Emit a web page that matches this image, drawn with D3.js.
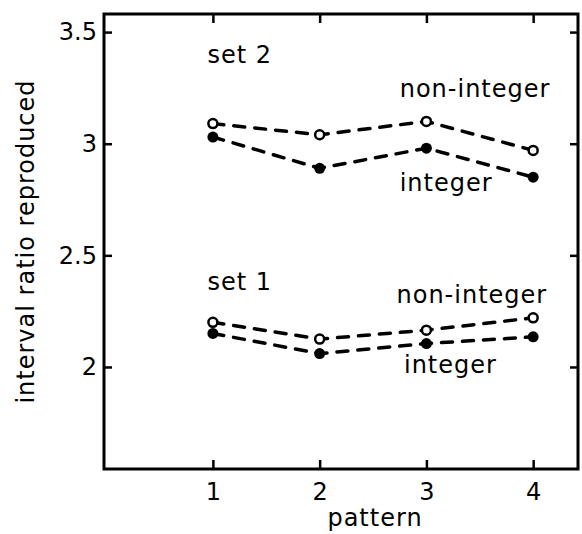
<!DOCTYPE html>
<html>
<head>
<meta charset="utf-8">
<script src="https://cdn.jsdelivr.net/npm/d3@7"></script>
<style>
  body { margin: 0; background: #fff; }
  svg text { font-family: "DejaVu Sans", sans-serif; fill: #000; }
</style>
</head>
<body>
<div id="chart"></div>
<script>
const patterns = [1, 2, 3, 4];
const set2NonInteger = [3.09, 3.04, 3.10, 2.97];
const set2Integer = [3.03, 2.89, 2.98, 2.85];
const set1NonInteger = [2.20, 2.125, 2.165, 2.22];
const set1Integer = [2.15, 2.06, 2.105, 2.135];
const yTicks = [2, 2.5, 3, 3.5];
const yTickLabels = ['2', '2.5', '3', '3.5'];

// label anchors in data units
const labels = [
  {text: 'set 2', x: 0.95, y: 3.36},
  {text: 'non-integer', x: 2.75, y: 3.21},
  {text: 'integer', x: 2.75, y: 2.79},
  {text: 'set 1', x: 0.95, y: 2.345},
  {text: 'non-integer', x: 2.72, y: 2.285},
  {text: 'integer', x: 2.79, y: 1.975}
];

const width = 582, height = 534;
const margin = {top: 14, right: 4, bottom: 65, left: 104};

const svg = d3.select('#chart').append('svg')
  .attr('width', width)
  .attr('height', height);

const x = d3.scaleLinear()
  .domain([-0.02, 4.42])
  .range([margin.left, width - margin.right]);

const y = d3.scaleLinear()
  .domain([1.543, 3.581])
  .range([height - margin.bottom, margin.top]);

// frame
svg.append('rect')
  .attr('x', x.range()[0])
  .attr('y', y.range()[1])
  .attr('width', x.range()[1] - x.range()[0])
  .attr('height', y.range()[0] - y.range()[1])
  .attr('fill', 'none')
  .attr('stroke', '#000')
  .attr('stroke-width', 3);

// inward ticks on all four sides
const tickStyle = g => {
  g.select('.domain').remove();
  g.selectAll('.tick line').attr('stroke', '#000').attr('stroke-width', 2.5);
  g.selectAll('.tick text')
    .style('font-size', '24px')
    .attr('fill', '#000');
};

svg.append('g')
  .attr('transform', `translate(0,${y.range()[0]})`)
  .call(d3.axisBottom(x).tickValues(patterns).tickSize(-9).tickPadding(14).tickFormat(d3.format('d')))
  .call(tickStyle);

svg.append('g')
  .attr('transform', `translate(0,${y.range()[1]})`)
  .call(d3.axisTop(x).tickValues(patterns).tickSize(-9).tickFormat(''))
  .call(tickStyle);

svg.append('g')
  .attr('transform', `translate(${x.range()[0]},0)`)
  .call(d3.axisLeft(y).tickValues(yTicks).tickSize(-8).tickPadding(7)
    .tickFormat((d, i) => yTickLabels[i]))
  .call(tickStyle);

svg.append('g')
  .attr('transform', `translate(${x.range()[1]},0)`)
  .call(d3.axisRight(y).tickValues(yTicks).tickSize(-8).tickFormat(''))
  .call(tickStyle);

// axis titles
svg.append('text')
  .attr('x', (x.range()[0] + x.range()[1]) / 2 + 34)
  .attr('y', 526)
  .attr('text-anchor', 'middle')
  .style('font-size', '24px')
  .style('letter-spacing', '1px')
  .text('pattern');

svg.append('text')
  .attr('transform', `translate(34,${(y.range()[0] + y.range()[1]) / 2}) rotate(-90)`)
  .attr('text-anchor', 'middle')
  .style('font-size', '24px')
  .style('letter-spacing', '1px')
  .text('interval ratio reproduced');

// series
const series = [
  {values: set2Integer, open: false},
  {values: set2NonInteger, open: true},
  {values: set1Integer, open: false},
  {values: set1NonInteger, open: true}
];

const line = d3.line()
  .x((d, i) => x(patterns[i]))
  .y(d => y(d));

series.forEach(s => {
  svg.append('path')
    .datum(s.values)
    .attr('fill', 'none')
    .attr('stroke', '#000')
    .attr('stroke-width', 3.5)
    .attr('stroke-linecap', 'round')
    .attr('stroke-dasharray', '11,10')
    .attr('d', line);
});

series.forEach(s => {
  svg.append('g').selectAll('circle')
    .data(s.values)
    .join('circle')
      .attr('cx', (d, i) => x(patterns[i]))
      .attr('cy', d => y(d))
      .attr('r', s.open ? 4.5 : 5.5)
      .attr('fill', s.open ? '#fff' : '#000')
      .attr('stroke', '#000')
      .attr('stroke-width', s.open ? 2.5 : 0);
});

svg.append('g').selectAll('text')
  .data(labels)
  .join('text')
    .attr('x', d => x(d.x))
    .attr('y', d => y(d.y))
    .style('font-size', '24px')
    .style('letter-spacing', '1px')
    .text(d => d.text);
</script>
</body>
</html>
